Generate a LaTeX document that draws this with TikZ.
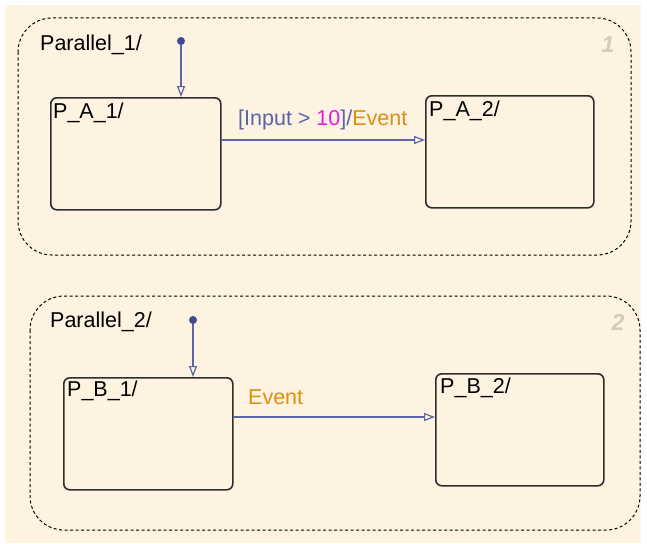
\documentclass[tikz,border=0pt]{standalone}
\usepackage{fontspec}
\setmainfont{Liberation Sans}
\usetikzlibrary{arrows.meta}
\definecolor{bgcream}{HTML}{FEF3E0}
\definecolor{trblue}{HTML}{5A64AA}
\definecolor{dotblue}{HTML}{414A92}
\definecolor{evorange}{HTML}{DE8E10}
\definecolor{tenmag}{HTML}{E81AE0}
\definecolor{boxgray}{HTML}{2E2E2E}
\definecolor{numgray}{HTML}{D2CBBE}
\begin{document}
\begin{tikzpicture}[x=1pt,y=-1pt,
  txt/.style={font=\fontsize{21.5}{24}\selectfont, inner sep=0pt},
  region/.style={draw=black, line width=1pt, dash pattern=on 3pt off 2.5pt, rounded corners=34pt},
  statebox/.style={draw=boxgray, line width=1.6pt, rounded corners=6pt, inner sep=0pt},
  numlab/.style={font=\fontsize{23}{25}\selectfont\bfseries\itshape, text=numgray, inner sep=0pt},
  trans/.style={draw=trblue, line width=1.3pt, -{Triangle[open, length=11pt, width=8pt, line width=1.2pt]}},
  initdot/.style={circle, fill=dotblue, inner sep=0pt, minimum size=8pt}]
\useasboundingbox (0,0) rectangle (647,543);
\fill[bgcream] (5,5) rectangle (641,543);

% Region 1
\draw[region] (18,18) rectangle (631,255);
\node[txt, anchor=west] (par1) at (40,45) {Parallel\_1/};
\node[numlab] (num1) at (608,45) {1};
\node[statebox, minimum width=170pt, minimum height=112pt, anchor=north west] (pa1) at (50,97) {};
\node[statebox, minimum width=168pt, minimum height=112pt, anchor=north west] (pa2) at (425,95) {};
\node[txt, anchor=west] (pa1l) at (53,113) {P\_A\_1/};
\node[txt, anchor=west] (pa2l) at (429,111) {P\_A\_2/};
\node[initdot] (d1) at (181,41) {};
\draw[trans] (d1) -- (d1 |- pa1.north);
\coordinate (t1) at (300,140);
\draw[trans] (pa1.east |- t1) -- (pa2.west |- t1);
\node[txt, anchor=west] (lab1) at (238,120) {\textcolor{trblue}{[Input >\ }\textcolor{tenmag}{10}\textcolor{trblue}{]/}\textcolor{evorange}{Event}};

% Region 2
\draw[region] (30,296) rectangle (640,530);
\node[txt, anchor=west] (par2) at (50,322) {Parallel\_2/};
\node[numlab] (num2) at (618,322) {2};
\node[statebox, minimum width=169pt, minimum height=112pt, anchor=north west] (pb1) at (63,377) {};
\node[statebox, minimum width=168pt, minimum height=112pt, anchor=north west] (pb2) at (435,373) {};
\node[txt, anchor=west] (pb1l) at (67,391) {P\_B\_1/};
\node[txt, anchor=west] (pb2l) at (440,388) {P\_B\_2/};
\node[initdot] (d2) at (193,320) {};
\draw[trans] (d2) -- (d2 |- pb1.north);
\coordinate (t2) at (300,417);
\draw[trans] (pb1.east |- t2) -- (pb2.west |- t2);
\node[txt, anchor=west, text=evorange] (lab2) at (248,397) {Event};
\end{tikzpicture}
\end{document}
